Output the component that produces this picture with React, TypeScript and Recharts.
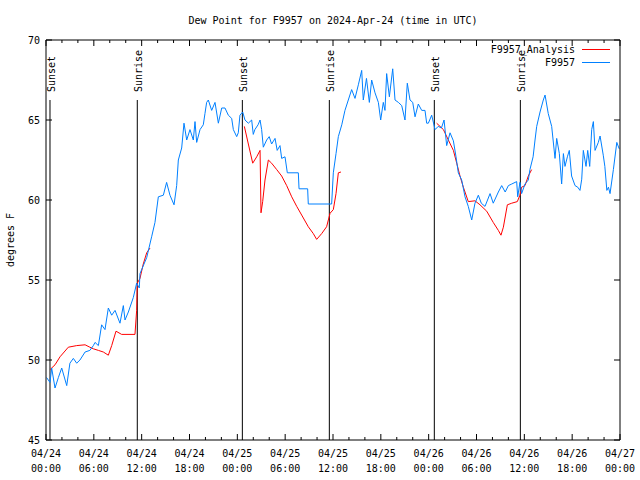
import React from 'react';
import { LineChart, Line, XAxis, YAxis, ReferenceLine } from 'recharts';

// ---- data ----
const obsHours = [0.08,0.5,0.71,1.13,1.55,1.97,2.6,3.0,3.43,3.85,4.26,4.9,5.5,5.94,6.15,6.57,6.98,7.4,7.82,8.24,8.66,9.28,9.7,9.91,10.33,10.95,11.37,11.7,11.79,12.63,13.25,13.67,14.09,14.72,15.13,15.55,16.06,16.39,16.6,17.02,17.31,17.65,18.06,18.48,18.69,18.9,19.32,19.73,19.94,20.15,20.36,20.78,21.2,21.62,22.04,22.45,22.87,23.29,23.5,23.92,24.12,24.33,24.67,24.96,25.38,25.8,26.0,26.2,26.6,26.85,27.05,27.26,27.68,28.0,28.3,28.73,29.0,29.35,29.56,29.98,30.27,31.65,31.74,32.82,32.9,35.83,36.04,36.38,36.67,37.1,37.5,37.92,38.34,38.76,39.18,39.6,39.8,40.2,40.56,40.85,41.27,41.69,41.98,42.31,42.52,42.73,43.07,43.49,43.78,44.2,44.62,45.03,45.32,45.66,46.0,46.29,46.7,47.13,47.54,47.75,47.96,48.38,48.8,49.2,49.6,49.93,50.26,50.68,51.1,51.43,51.72,52.14,52.56,52.97,53.4,53.81,54.23,54.6,55.07,55.7,56.1,56.74,57.16,57.6,58.0,58.42,59.04,59.17,59.45,59.66,60.08,60.5,60.7,61.1,61.34,61.55,61.97,62.38,62.6,63.0,63.43,63.85,64.06,64.39,64.68,64.9,65.1,65.4,65.64,65.93,66.36,66.7,66.98,67.2,67.4,67.74,67.95,68.2,68.45,68.66,68.87,69.28,69.5,69.9,70.1,70.35,70.55,70.75,71.17,71.6,71.9];
const obsDew = [48.9,48.6,49.5,48.25,48.9,49.5,48.4,49.8,50.1,49.8,50.0,50.5,50.6,50.9,51.1,50.9,52.2,51.9,53.25,52.8,53.1,52.3,53.4,52.5,53.0,53.9,54.8,54.5,55.4,56.4,57.7,58.6,60.2,60.3,61.1,60.3,59.7,60.9,62.5,63.25,64.8,63.75,64.4,63.75,64.9,63.6,64.4,64.7,65.4,66.1,66.25,65.6,66.1,64.8,65.75,65.75,65.3,65.1,64.4,63.96,64.2,65.3,65.5,65.0,64.8,65.0,64.1,64.4,64.7,65.0,64.4,63.3,63.75,63.96,63.5,63.85,63.1,63.4,62.6,62.7,61.7,61.7,60.7,60.7,59.75,59.75,61.7,62.9,63.96,64.7,65.6,66.25,66.9,66.35,67.2,68.1,66.25,67.6,66.1,67.5,66.7,66.1,65.0,66.1,65.6,67.9,66.45,68.2,66.25,66.1,65.9,65.0,67.3,66.25,66.1,65.2,66.0,65.6,65.6,64.8,64.8,65.3,64.4,64.6,64.5,65.0,63.4,64.2,63.7,62.7,61.7,61.25,60.2,59.6,58.75,59.8,60.3,59.8,59.6,60.4,59.8,60.5,60.9,60.5,60.9,61.0,61.15,60.2,61.1,60.4,61.0,61.25,61.9,62.7,63.75,64.6,65.5,66.25,66.56,65.4,64.6,62.6,63.85,62.9,61.0,62.9,62.1,62.7,63.1,61.5,60.9,60.8,60.6,61.3,63.1,62.1,63.1,62.1,64.4,64.9,63.1,63.6,64.0,62.8,62.1,60.6,60.8,60.4,61.9,63.6,63.2];

const anaHours = [0.5,1.13,1.76,2.8,3.85,4.9,5.5,5.94,6.57,7.19,7.82,8.24,8.78,9.49,11.16,11.37,11.45,11.79,12.2,12.63,13.05,18,24.88,25.38,25.93,26.43,26.85,26.97,27.18,27.47,27.89,28.3,28.94,29.56,30.19,30.82,31.45,32.07,32.9,33.53,33.95,34.58,35.2,35.63,36.04,36.38,36.67,37.0,43,49.0,49.85,50.47,51.1,51.52,51.93,52.35,52.97,53.81,54.44,55.28,56.1,56.74,57.07,57.37,57.87,58.42,59.12,59.45,59.66,60.08,60.5,60.92];
const anaDew = [49.4,49.7,50.2,50.8,50.9,50.95,50.8,50.7,50.6,50.5,50.3,50.9,51.8,51.6,51.6,53.1,54.8,55.1,56.0,56.7,57.0,null,64.6,63.5,62.3,62.7,63.1,59.2,59.9,61.25,62.5,62.3,61.9,61.5,60.9,60.2,59.6,59.06,58.33,57.9,57.54,57.9,58.33,59.17,59.4,60.4,61.7,61.75,null,64.8,64.4,63.75,63.1,62.3,61.5,60.8,59.9,59.95,59.7,59.3,58.6,58.1,57.8,58.3,59.7,59.8,59.9,60.3,60.8,60.9,61.5,61.9];

const sunHours = [0.5, 11.45, 24.63, 35.54, 48.71, 59.5];
const sunLabels = ['Sunset', 'Sunrise', 'Sunset', 'Sunrise', 'Sunset', 'Sunrise'];
const sunLineTop = 66.25;

const xTicks = Array.from({ length: 37 }, (_, i) => i * 2);
const xTickDates = ['04/24','04/24','04/24','04/24','04/25','04/25','04/25','04/25','04/26','04/26','04/26','04/26','04/27'];
const xTickTimes = ['00:00','06:00','12:00','18:00','00:00','06:00','12:00','18:00','00:00','06:00','12:00','18:00','00:00'];
const yTicks = [45, 50, 55, 60, 65, 70];

const seriesNames = ['F9957_Analysis', 'F9957'];
const seriesColors = ['#ff0000', '#0080ff'];

const titleText = 'Dew Point for F9957 on 2024-Apr-24 (time in UTC)';
const yLabelText = 'degrees F';

const obsData = obsHours.map((h, i) => ({ h, v: obsDew[i] }));
const anaData = anaHours.map((h, i) => ({ h, v: anaDew[i] }));

const FONT = '"DejaVu Sans Mono", "Liberation Mono", monospace';

const BottomTick = (props: any) => {
  const { x, y, payload } = props;
  const h = payload.value;
  const major = h % 6 === 0;
  const idx = h / 6;
  return (
    <g>
      <line x1={x} y1={y} x2={x} y2={y - (major ? 6 : 3)} stroke="#000" />
      {major && (
        <text x={x} y={y + 17} textAnchor="middle" fontFamily={FONT} fontSize={10} fill="#000">{xTickDates[idx]}</text>
      )}
      {major && (
        <text x={x} y={y + 32} textAnchor="middle" fontFamily={FONT} fontSize={10} fill="#000">{xTickTimes[idx]}</text>
      )}
    </g>
  );
};

const TopTick = (props: any) => {
  const { x, y, payload } = props;
  const major = payload.value % 6 === 0;
  return <line x1={x} y1={y} x2={x} y2={y + (major ? 6 : 3)} stroke="#000" />;
};

const LeftTick = (props: any) => {
  const { x, y, payload } = props;
  return (
    <g>
      <line x1={x} y1={y} x2={x + 6} y2={y} stroke="#000" />
      <text x={x - 6} y={y + 4} textAnchor="end" fontFamily={FONT} fontSize={10} fill="#000">{payload.value}</text>
    </g>
  );
};

const RightTick = (props: any) => {
  const { x, y } = props;
  return <line x1={x} y1={y} x2={x - 6} y2={y} stroke="#000" />;
};

const sunLabel = (text: string) => (props: any) => {
  const vb = props.viewBox || {};
  const lx = vb.x + 5;
  const ly = vb.y - 8;
  return (
    <text x={lx} y={ly} transform={`rotate(-90 ${lx} ${ly})`} textAnchor="start" fontFamily={FONT} fontSize={10} fill="#000">
      {text}
    </text>
  );
};

export default function App() {
  return (
    <div style={{ position: 'absolute', left: 0, top: 0, width: 640, height: 480, background: '#fff' }}>
      <LineChart width={640} height={480} margin={{ top: 10, right: 0, bottom: 0, left: 0 }}>
        <XAxis xAxisId="b" type="number" dataKey="h" domain={[0, 72]} ticks={xTicks} interval={0}
          tick={<BottomTick />} tickLine={false} tickSize={0} tickMargin={0} height={40}
          axisLine={{ stroke: '#000' }} allowDataOverflow />
        <XAxis xAxisId="t" orientation="top" type="number" dataKey="h" domain={[0, 72]} ticks={xTicks} interval={0}
          tick={<TopTick />} tickLine={false} tickSize={0} tickMargin={0} height={30}
          axisLine={{ stroke: '#000' }} allowDataOverflow />
        <YAxis yAxisId="l" type="number" domain={[45, 70]} ticks={yTicks} interval={0}
          tick={<LeftTick />} tickLine={false} tickSize={0} tickMargin={0} width={46}
          axisLine={{ stroke: '#000' }} allowDataOverflow />
        <YAxis yAxisId="r" orientation="right" type="number" domain={[45, 70]} ticks={yTicks} interval={0}
          tick={<RightTick />} tickLine={false} tickSize={0} tickMargin={0} width={20}
          axisLine={{ stroke: '#000' }} allowDataOverflow />
        {sunHours.map((h, i) => (
          <ReferenceLine key={i} xAxisId="b" yAxisId="l" segment={[{ x: h, y: sunLineTop }, { x: h, y: 45 }]}
            stroke="#000" strokeWidth={1} label={sunLabel(sunLabels[i])} ifOverflow="visible" />
        ))}
        <Line xAxisId="b" yAxisId="l" data={anaData} dataKey="v" name={seriesNames[0]} stroke={seriesColors[0]}
          strokeWidth={1} dot={false} activeDot={false} type="linear" isAnimationActive={false} connectNulls={false} />
        <Line xAxisId="b" yAxisId="l" data={obsData} dataKey="v" name={seriesNames[1]} stroke={seriesColors[1]}
          strokeWidth={1} dot={false} activeDot={false} type="linear" isAnimationActive={false} />
        <text x={333} y={24} textAnchor="middle" fontFamily={FONT} fontSize={10} fill="#000">{titleText}</text>
        <text x={14} y={240} transform="rotate(-90 14 240)" textAnchor="middle" fontFamily={FONT} fontSize={10} fill="#000">{yLabelText}</text>
        {seriesNames.map((n, i) => (
          <g key={n}>
            <text x={575} y={53 + i * 13} textAnchor="end" fontFamily={FONT} fontSize={10} fill="#000">{n}</text>
            <line x1={582} y1={49.5 + i * 13} x2={610} y2={49.5 + i * 13} stroke={seriesColors[i]} strokeWidth={1} />
          </g>
        ))}
      </LineChart>
    </div>
  );
}
